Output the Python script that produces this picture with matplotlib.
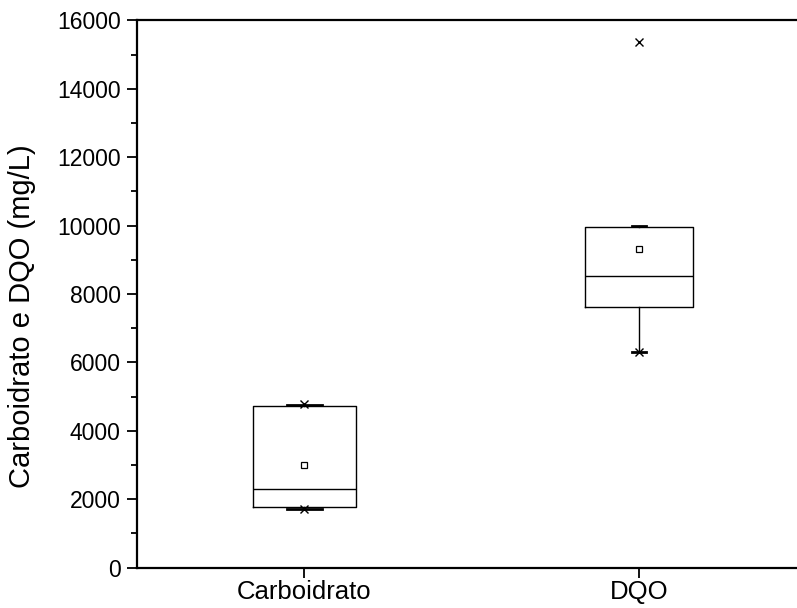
import matplotlib
matplotlib.use("Agg")
import matplotlib.pyplot as plt
from matplotlib.ticker import MultipleLocator

plt.rcParams["font.family"] = ["Liberation Sans", "DejaVu Sans"]

# box statistics (mg/L)
categories = ["Carboidrato", "DQO"]
q1 = [1770, 7610]
median = [2287, 8518]
q3 = [4724, 9968]
mean = [3007, 9316]
whisker_low = [1720, 6303]
whisker_high = [4750, 9990]
extreme_low = [1711, 6303]
extreme_high = [4774, 15371]

stats = []
for i, name in enumerate(categories):
    stats.append({
        "label": name,
        "q1": q1[i], "med": median[i], "q3": q3[i], "mean": mean[i],
        "whislo": whisker_low[i], "whishi": whisker_high[i], "fliers": [],
    })

fig = plt.figure(figsize=(7.97, 6.08), dpi=100)
ax = fig.add_axes([0.1723, 0.0666, 0.839, 0.8997])

positions = [1, 2]
ax.bxp(
    stats, positions=positions, widths=[0.306, 0.322], capwidths=[0.105, 0.04],
    showmeans=True, meanline=False, showfliers=False,
    boxprops=dict(color="black", linewidth=1.0),
    medianprops=dict(color="black", linewidth=1.0),
    whiskerprops=dict(color="black", linewidth=1.0),
    capprops=dict(color="black", linewidth=2.0),
    meanprops=dict(marker="s", markersize=4, markerfacecolor="white",
                   markeredgecolor="black", markeredgewidth=0.9),
)
ax.plot(positions, extreme_low, "x", color="black", ms=6, mew=1.0, zorder=3)
ax.plot(positions, extreme_high, "x", color="black", ms=6, mew=1.0, zorder=3)

ax.set_xlim(0.5, 2.5)
ax.set_ylim(0, 16000)
ax.set_xticks(positions)
ax.set_xticklabels(categories, fontsize=18.5)
ax.yaxis.set_major_locator(MultipleLocator(2000))
ax.yaxis.set_minor_locator(MultipleLocator(1000))
ax.tick_params(axis="y", which="major", direction="out", length=7.5, width=1.3,
               labelsize=16.5, pad=4.5)
ax.tick_params(axis="y", which="minor", direction="out", length=4, width=1.3)
ax.tick_params(axis="x", which="major", direction="out", length=7, width=1.3, pad=2)
ax.tick_params(axis="x", which="minor", bottom=False)

for s in ax.spines.values():
    s.set_linewidth(1.6)

ax.set_ylabel("Carboidrato e DQO (mg/L)", fontsize=21)
ax.yaxis.set_label_coords(-0.151, 0.46)

fig.savefig("out.png", dpi=100)
